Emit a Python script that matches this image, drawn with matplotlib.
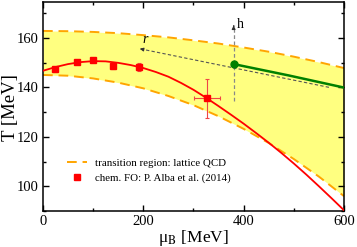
import matplotlib
matplotlib.use("Agg")
import matplotlib.pyplot as plt
from matplotlib.ticker import MultipleLocator

plt.rcParams['font.family'] = ['Liberation Serif', 'DejaVu Serif']
plt.rcParams['mathtext.fontset'] = 'stix'

# lattice QCD transition band
band_mu = [0, 50, 100, 150, 200, 250, 300, 350, 400, 450, 500, 550, 600]
band_upper = [162.8, 162.7, 162.4, 161.9, 161.1, 160.2, 159.0, 157.7, 156.1, 154.4, 152.4, 150.2, 147.8]
band_lower = [145.0, 144.7, 143.6, 141.9, 139.6, 136.5, 132.8, 128.3, 123.2, 117.5, 111.0, 103.9, 96.0]

# chemical freeze-out fit curve
fit_mu = [0, 25, 50, 75, 100, 125, 150, 175, 200, 225, 250, 275, 300,
          325, 350, 375, 400, 425, 450, 475, 500, 525, 550, 575, 600]
fit_T = [146.7, 148.2, 149.4, 150.2, 150.6, 150.5, 149.9, 149.0, 147.8, 146.2, 144.3, 141.8, 139.0,
         135.8, 132.4, 128.9, 125.3, 121.5, 117.6, 113.5, 109.2, 104.7, 100.0, 95.2, 90.3]

# chemical freeze-out points (P. Alba et al. 2014)
fo_mu = [24, 67, 100, 140, 192, 327]
fo_T = [147.3, 150.1, 151.1, 148.5, 148.2, 135.5]
fo_xerr = [0, 0, 0, 0, 0, 25]
fo_yerr = [1.0, 0.8, 0.8, 1.0, 1.5, 8.0]

# green line (critical point and beyond)
cp_mu = [380, 490, 600]
cp_T = [149.4, 144.8, 139.9]

# arrows
h_mu = [380, 380]
h_T = [134.5, 165.0]
r_mu = [570, 193]
r_T = [140.0, 155.6]

fig = plt.figure(figsize=(3.57, 2.47), dpi=100)
ax = fig.add_axes([0.1204, 0.1457, 0.8432, 0.8462])

ax.fill_between(band_mu, band_lower, band_upper, color='#ffff80', lw=0, zorder=1)
ax.plot(band_mu, band_upper, ls=(0, (5, 3)), color='#ffa500', lw=1.4, zorder=2,
        label='transition region: lattice QCD')
ax.plot(band_mu, band_lower, ls=(0, (5, 3)), color='#ffa500', lw=1.4, zorder=2)

ax.plot(fit_mu, fit_T, color='#ff0000', lw=1.3, zorder=3)
ax.errorbar(fo_mu, fo_T, xerr=fo_xerr, yerr=fo_yerr, fmt='none', ecolor='#f04545',
            elinewidth=0.8, capsize=1.5, capthick=0.8, zorder=3)
ax.plot(fo_mu, fo_T, 's', color='#ff0000', ms=4.5, ls='none', zorder=4,
        label='chem. FO: P. Alba et al. (2014)')

ax.plot(cp_mu, cp_T, color='#008000', lw=1.8, zorder=4)

# h arrow
ax.plot(h_mu, h_T, ls=(0, (3, 2)), color='#888888', lw=0.9, zorder=3)
ax.annotate('', xy=(h_mu[1], h_T[1]), xytext=(h_mu[1], h_T[1] - 1.5),
            arrowprops=dict(arrowstyle='-|>', color='#333333', lw=0.8,
                            mutation_scale=5), zorder=5)
ax.text(h_mu[1] + 7, h_T[1] + 0.3, 'h', fontsize=10, va='center', ha='left')

# r arrow
ax.plot(r_mu, r_T, ls=(0, (3, 2)), color='#555555', lw=0.8, zorder=3)
ax.annotate('', xy=(r_mu[1], r_T[1]), xytext=(r_mu[1] + 4, r_T[1] - 0.17),
            arrowprops=dict(arrowstyle='-|>', color='#333333', lw=0.8,
                            mutation_scale=5), zorder=5)
ax.text(r_mu[1] + 6, r_T[1] + 1.0, 'r', fontsize=10, style='italic', va='bottom', ha='left')

ax.plot(cp_mu[:1], cp_T[:1], 'o', color='#008000', ms=5, zorder=6)

ax.set_xlim(0, 600)
ax.set_ylim(90, 174.5)
ax.xaxis.set_major_locator(MultipleLocator(200))
ax.xaxis.set_minor_locator(MultipleLocator(100))
ax.yaxis.set_major_locator(MultipleLocator(20))
ax.yaxis.set_minor_locator(MultipleLocator(10))
ax.tick_params(which='both', direction='in', top=True, right=True, labelsize=10.5, pad=3)
ax.tick_params(which='major', length=4, width=1)
ax.tick_params(which='minor', length=2.5, width=1)
for s in ax.spines.values():
    s.set_linewidth(1.1)

ax.set_xlabel('μ$_\\mathrm{B}$ [MeV]', fontsize=12.5)
ax.xaxis.set_label_coords(0.5, -0.146)
ax.xaxis.label.set_va('baseline')
ax.set_ylabel('T [MeV]', fontsize=13.5)
ax.yaxis.set_label_coords(-0.094, 0.495)
ax.yaxis.label.set_va('baseline')

ax.legend(loc='lower left', bbox_to_anchor=(0.055, 0.097), frameon=False, fontsize=7.8,
          handlelength=1.8, handletextpad=0.8, labelspacing=0.5, borderpad=0.2)

fig.savefig('out.png', dpi=100)
